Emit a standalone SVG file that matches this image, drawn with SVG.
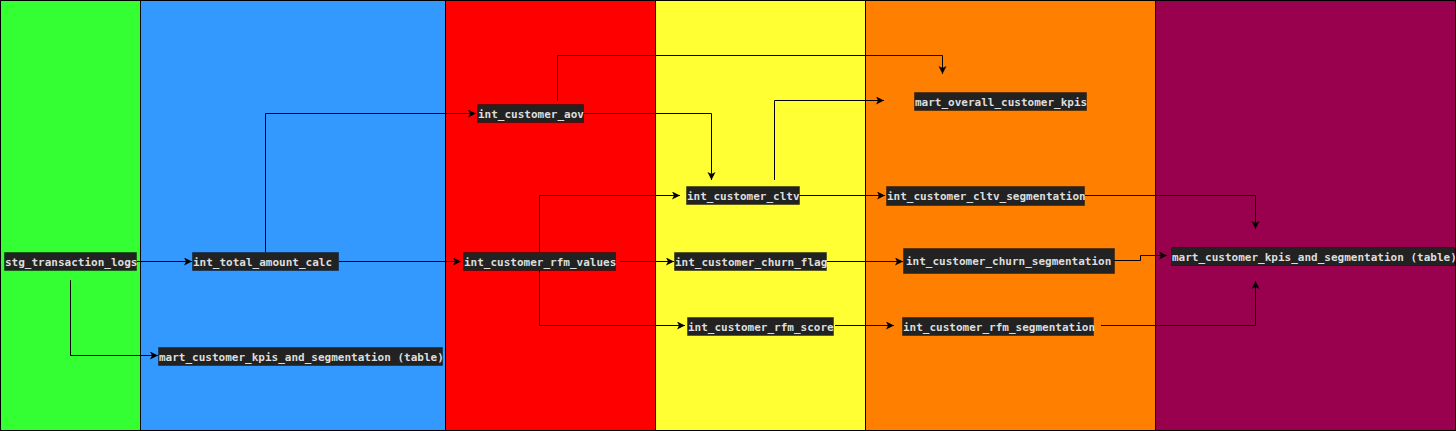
<svg xmlns="http://www.w3.org/2000/svg" width="1456" height="431" viewBox="0 0 1456 431">
<style>
.col{stroke:#000;stroke-width:1}
.edge{fill:none;stroke:#000;stroke-width:1}
.box{fill:#222;stroke:#000;stroke-opacity:0.35;stroke-width:1}
.lbl{font-family:"DejaVu Sans Mono","Liberation Mono",monospace;font-size:11px;font-weight:bold;fill:#ddd}
</style>
<defs>
<marker id="arr" markerUnits="userSpaceOnUse" markerWidth="10" markerHeight="10" refX="8" refY="4" orient="auto">
<path d="M0,0 L8,4 L0,8 L2,4 z" fill="#000"/>
</marker>
</defs>
<g id="lanes">
<rect class="col" x="0.5" y="0.5" width="140" height="430" fill="#33FF33"/>
<rect class="col" x="140.5" y="0.5" width="305" height="430" fill="#3399FF"/>
<rect class="col" x="445.5" y="0.5" width="210" height="430" fill="#FF0000"/>
<rect class="col" x="655.5" y="0.5" width="210" height="430" fill="#FFFF33"/>
<rect class="col" x="865.5" y="0.5" width="290" height="430" fill="#FF8000"/>
<rect class="col" x="1155.5" y="0.5" width="300" height="430" fill="#99004D" stroke="#33001a"/>
</g>
<g id="connectors">
<path class="edge" marker-end="url(#arr)" d="M137,261.5 H192"/>
<path class="edge" marker-end="url(#arr)" d="M70.5,280 V355.5 H158"/>
<path class="edge" marker-end="url(#arr)" d="M265.5,252 V113.5 H476"/>
<path class="edge" marker-end="url(#arr)" d="M339,261.5 H461"/>
<path class="edge" marker-end="url(#arr)" d="M583,113.5 H711.5 V180"/>
<path class="edge" marker-end="url(#arr)" d="M557.5,101 V55.5 H942.5 V74"/>
<path class="edge" marker-end="url(#arr)" d="M539.5,252 V195.5 H680"/>
<path class="edge" d="M539.5,270 V325.5"/>
<path class="edge" marker-end="url(#arr)" d="M539.5,325.5 H685"/>
<path class="edge" marker-end="url(#arr)" d="M620,261.5 H674"/>
<path class="edge" marker-end="url(#arr)" d="M774.5,180 V100.5 H884"/>
<path class="edge" marker-end="url(#arr)" d="M799,195.5 H885"/>
<path class="edge" marker-end="url(#arr)" d="M827,261.5 H903"/>
<path class="edge" marker-end="url(#arr)" d="M835,325.5 H894"/>
<path class="edge" marker-end="url(#arr)" d="M1085,195.5 H1255.5 V229"/>
<path class="edge" marker-end="url(#arr)" d="M1114,260.5 H1140.5 V255.5 H1167"/>
<path class="edge" marker-end="url(#arr)" d="M1101,325.5 H1255.5 V281"/>
</g>
<g id="stg_transaction_logs">
<rect class="box" x="4.5" y="252.5" width="132" height="18"/>
<text class="lbl" x="5" y="265.5">stg_transaction_logs</text>
</g>
<g id="int_total_amount_calc">
<rect class="box" x="192.5" y="252.5" width="146" height="18"/>
<text class="lbl" x="193" y="265.5">int_total_amount_calc</text>
</g>
<g id="mart_customer_kpis_blue">
<rect class="box" x="158.5" y="347.5" width="284" height="18"/>
<text class="lbl" x="159" y="360.5">mart_customer_kpis_and_segmentation (table)</text>
</g>
<g id="int_customer_aov">
<rect class="box" x="477.5" y="104.5" width="106" height="18"/>
<text class="lbl" x="478" y="117.5">int_customer_aov</text>
</g>
<g id="int_customer_rfm_values">
<rect class="box" x="463.5" y="252.5" width="152" height="18"/>
<text class="lbl" x="464" y="265.5">int_customer_rfm_values</text>
</g>
<g id="int_customer_cltv">
<rect class="box" x="686.5" y="186.5" width="113" height="18"/>
<text class="lbl" x="687" y="199.5">int_customer_cltv</text>
</g>
<g id="int_customer_churn_flag">
<rect class="box" x="674.5" y="252.5" width="152" height="18"/>
<text class="lbl" x="675" y="265.5">int_customer_churn_flag</text>
</g>
<g id="int_customer_rfm_score">
<rect class="box" x="687.5" y="317.5" width="146" height="18"/>
<text class="lbl" x="688" y="330.5">int_customer_rfm_score</text>
</g>
<g id="mart_overall_customer_kpis">
<rect class="box" x="914.5" y="92.5" width="172" height="18"/>
<text class="lbl" x="915" y="105.5">mart_overall_customer_kpis</text>
</g>
<g id="int_customer_cltv_segmentation">
<rect class="box" x="886.5" y="186.5" width="198" height="19"/>
<text class="lbl" x="887" y="199.5">int_customer_cltv_segmentation</text>
</g>
<g id="int_customer_churn_segmentation">
<rect class="box" x="903.5" y="248.5" width="211" height="25"/>
<text class="lbl" x="906" y="265">int_customer_churn_segmentation</text>
</g>
<g id="int_customer_rfm_segmentation">
<rect class="box" x="902.5" y="317.5" width="191" height="18"/>
<text class="lbl" x="903" y="330.5">int_customer_rfm_segmentation</text>
</g>
<g id="mart_customer_kpis_purple">
<rect class="box" x="1171.5" y="247.5" width="283" height="18"/>
<text class="lbl" x="1172" y="260.5">mart_customer_kpis_and_segmentation (table)</text>
</g>
</svg>
